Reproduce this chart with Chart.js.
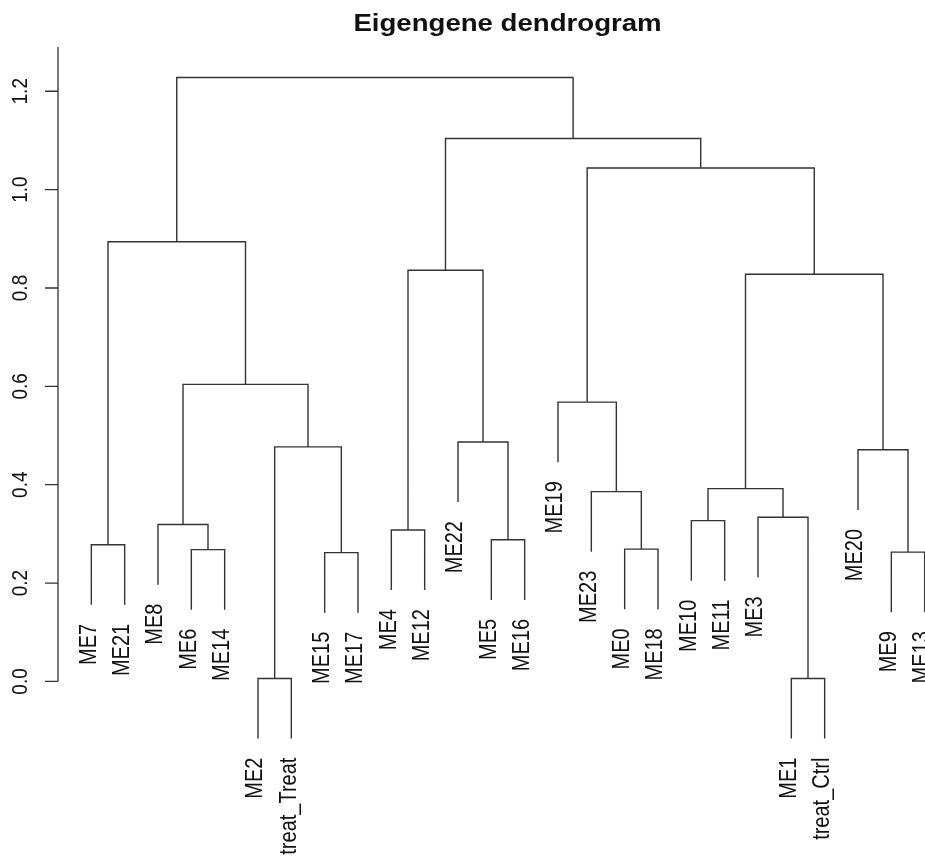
<!DOCTYPE html>
<html>
<head>
<meta charset="utf-8">
<title>Eigengene dendrogram</title>
<script src="https://cdn.jsdelivr.net/npm/chart.js@4.4.1/dist/chart.umd.min.js"></script>
<style>
html, body { margin: 0; padding: 0; background: #fff; overflow: hidden; }
#wrap { width: 925px; height: 865px; overflow: hidden; }
</style>
</head>
<body>
<div id="wrap"><canvas id="dendro" width="960" height="865"></canvas></div>
<script>
// leaves in plotting order (left to right)
var leafLabels = ['ME7', 'ME21', 'ME8', 'ME6', 'ME14', 'ME2', 'treat_Treat', 'ME15', 'ME17',
	'ME4', 'ME12', 'ME22', 'ME5', 'ME16', 'ME19', 'ME23', 'ME0', 'ME18',
	'ME10', 'ME11', 'ME3', 'ME1', 'treat_Ctrl', 'ME20', 'ME9', 'ME13'];

// merges, hclust style: negative = leaf (position in leafLabels), positive = earlier merge row
var mergeLeft  = [-6, -22, -8, -25, -4, -17, -1, -13, -10, -3, -19, -21, -16, 11, -24, 1, -12, -15, 10, 14, 9, 7, 18, 21, 22];
var mergeRight = [-7, -23, -9, -26, -5, -18, -2, -14, -11,  5, -20,   2,   6, 12,   4, 3,   8,  13, 16, 15, 17, 19, 20, 23, 24];
var mergeHeight = [0.006, 0.006, 0.262, 0.263, 0.268, 0.269, 0.278, 0.288, 0.308, 0.319, 0.327, 0.334,
	0.386, 0.392, 0.471, 0.477, 0.487, 0.568, 0.604, 0.828, 0.836, 0.894, 1.044, 1.104, 1.228];

var yTickValues = [0, 0.2, 0.4, 0.6, 0.8, 1.0, 1.2];
var yTickLabels = ['0.0', '0.2', '0.4', '0.6', '0.8', '1.0', '1.2'];
var hangFrac = 0.1;

var hang = hangFrac * (Math.max.apply(null, mergeHeight) - Math.min.apply(null, mergeHeight));
var mergeX = [];
var leafBottom = [];

function childX(id) { return id < 0 ? -id : mergeX[id - 1]; }
function childY(id, h) {
	if (id < 0) {
		leafBottom[-id - 1] = h - hang;
		return h - hang;
	}
	return mergeHeight[id - 1];
}

var segs = [];
for (var i = 0; i < mergeHeight.length; i++) {
	var h = mergeHeight[i];
	var xl = childX(mergeLeft[i]), xr = childX(mergeRight[i]);
	var yl = childY(mergeLeft[i], h), yr = childY(mergeRight[i], h);
	mergeX.push((xl + xr) / 2);
	segs.push({x: xl, y: yl}, {x: xl, y: h}, {x: xr, y: h}, {x: xr, y: yr}, {x: xr, y: null});
}

var FONT = '"Liberation Sans", Arial, Helvetica, sans-serif';
var STRETCH = 1.15;

var rPlot = {
	id: 'rPlot',
	afterDraw: function(chart) {
		var ctx = chart.ctx;
		var xs = chart.scales.x, ys = chart.scales.y;
		var axX = chart.chartArea.left;
		ctx.save();
		// y axis
		ctx.strokeStyle = '#333';
		ctx.lineWidth = 1.3;
		ctx.beginPath();
		ctx.moveTo(axX, chart.chartArea.top);
		ctx.lineTo(axX, ys.getPixelForValue(0));
		for (var t = 0; t < yTickValues.length; t++) {
			var ty = ys.getPixelForValue(yTickValues[t]);
			ctx.moveTo(axX, ty);
			ctx.lineTo(axX - 13, ty);
		}
		ctx.stroke();

		ctx.fillStyle = '#111';
		ctx.font = '19px ' + FONT;
		ctx.textAlign = 'center';
		ctx.textBaseline = 'middle';
		for (var t = 0; t < yTickValues.length; t++) {
			ctx.save();
			ctx.translate(21, ys.getPixelForValue(yTickValues[t]));
			ctx.scale(STRETCH, 1);
			ctx.rotate(-Math.PI / 2);
			ctx.fillText(yTickLabels[t], 0, 0);
			ctx.restore();
		}

		// leaf labels
		ctx.font = '20px ' + FONT;
		ctx.textAlign = 'right';
		for (var j = 0; j < leafLabels.length; j++) {
			ctx.save();
			ctx.translate(xs.getPixelForValue(j + 1) - 2, ys.getPixelForValue(leafBottom[j]) + 19);
			ctx.scale(STRETCH, 1);
			ctx.rotate(-Math.PI / 2);
			ctx.fillText(leafLabels[j], 0, 0);
			ctx.restore();
		}

		// title
		ctx.font = 'bold 24px ' + FONT;
		ctx.textAlign = 'center';
		ctx.textBaseline = 'alphabetic';
		ctx.translate(507.5, 30.5);
		ctx.scale(STRETCH, 1);
		ctx.fillText('Eigengene dendrogram', 0, 0);
		ctx.restore();
	}
};

var ctx = document.getElementById('dendro').getContext('2d');
var chart = new Chart(ctx, {
	type: 'scatter',
	data: {
		datasets: [{
			data: segs,
			showLine: true,
			spanGaps: false,
			borderColor: '#333',
			borderWidth: 1.4,
			pointRadius: 0,
			pointHoverRadius: 0,
			clip: false
		}]
	},
	options: {
		responsive: false,
		animation: false,
		layout: { padding: { left: 58, right: 2, top: 47, bottom: 36 } },
		scales: {
			x: { type: 'linear', min: 0, max: 27, display: false },
			y: { type: 'linear', min: -0.3, max: 1.29, display: false }
		},
		plugins: {
			legend: { display: false },
			tooltip: { enabled: false }
		}
	},
	plugins: [rPlot]
});
</script>
</body>
</html>
